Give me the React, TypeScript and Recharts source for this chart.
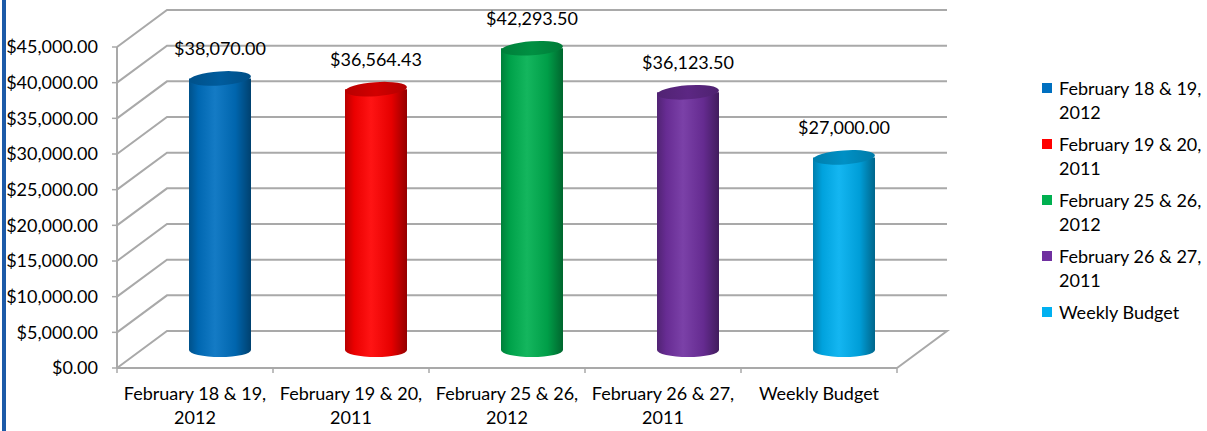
import React from "react"
import { BarChart, Bar, XAxis, YAxis, CartesianGrid, Cell, LabelList } from "recharts"

const categories = [
  "February 18 & 19, 2012",
  "February 19 & 20, 2011",
  "February 25 & 26, 2012",
  "February 26 & 27, 2011",
  "Weekly Budget",
]
const amounts = [38070, 36564.43, 42293.5, 36123.5, 27000]
const colors = ["#0070c0", "#ff0000", "#00b050", "#7030a0", "#00b0f0"]
const yTicks = [0, 5000, 10000, 15000, 20000, 25000, 30000, 35000, 40000, 45000]

const data = categories.map((name, i) => ({ name, amount: amounts[i] }))

const W = 1207
const H = 431
const MARGIN = { top: 47, right: 310, bottom: 0, left: 0 }
const Y_AXIS_W = 117
const X_AXIS_H = 63
const PLOT_BOTTOM = H - X_AXIS_H
const PLOT_W = W - MARGIN.right - Y_AXIS_W
// 3d look: back wall offset and bar depth (half of it)
const DEPTH_X = 50
const DEPTH_Y = 37
const MID_X = 25
const MID_Y = 18
const CAP_RY = 7
const FONT = "Lato, 'Liberation Sans', sans-serif"
const GRID = "#a9a9a9"

const money = (v: number) =>
  "$" + v.toLocaleString("en-US", { minimumFractionDigits: 2, maximumFractionDigits: 2 })

const splitName = (s: string) => s.split(/(?<=,) /)

function shade(hex: string, f: number) {
  const n = parseInt(hex.slice(1), 16)
  const ch = [(n >> 16) & 255, (n >> 8) & 255, n & 255].map((c) =>
    f < 1 ? Math.round(c * f) : Math.round(c + (255 - c) * (f - 1))
  )
  return "#" + ch.map((c) => c.toString(16).padStart(2, "0")).join("")
}

function WallLine(props: any) {
  const { x1, y1, x2, index } = props
  let d = `M${x1},${y1} L${x1 + DEPTH_X},${y1 - DEPTH_Y} L${x2 + DEPTH_X},${y1 - DEPTH_Y}`
  if (Math.abs(y1 - PLOT_BOTTOM) < 1) d += ` L${x2},${y1}`
  return <path key={`wall-${index}`} d={d} fill="none" stroke={GRID} strokeWidth={2} />
}

function Cylinder(props: any) {
  const { x, y, width, height, payload } = props
  if (!height || height <= 0) return null
  const i = categories.indexOf(payload.name)
  const rx = width / 2
  const cx = x + rx + MID_X
  const top = y - MID_Y
  const bottom = y + height - MID_Y
  const d = `M${cx - rx},${top} L${cx - rx},${bottom} A${rx},${CAP_RY} 0 0 0 ${cx + rx},${bottom} L${cx + rx},${top} Z`
  return (
    <g>
      <path d={d} fill={`url(#body-${i})`} />
      <ellipse
        cx={cx}
        cy={top}
        rx={rx}
        ry={CAP_RY}
        fill={`url(#cap-${i})`}
        transform={`rotate(-4 ${cx} ${top})`}
      />
    </g>
  )
}

function ValueLabel(props: any) {
  const { x, y, width, value } = props
  const cx = x + width / 2 + MID_X
  return (
    <text x={cx} y={y - MID_Y - CAP_RY - 16} textAnchor="middle" fontSize={18} fill="#000" fontFamily={FONT}>
      {money(value)}
    </text>
  )
}

function CategoryTick(props: any) {
  const { x, payload, index } = props
  const band = PLOT_W / categories.length
  const lines = splitName(payload.value)
  return (
    <g>
      <line x1={x - band / 2} y1={PLOT_BOTTOM} x2={x - band / 2} y2={PLOT_BOTTOM + 5} stroke={GRID} strokeWidth={1.5} />
      {index === categories.length - 1 && (
        <line x1={x + band / 2} y1={PLOT_BOTTOM} x2={x + band / 2} y2={PLOT_BOTTOM + 5} stroke={GRID} strokeWidth={1.5} />
      )}
      <text textAnchor="middle" fontSize={18} fill="#000" fontFamily={FONT}>
        {lines.map((l, k) => (
          <tspan key={k} x={x} y={PLOT_BOTTOM + 32 + k * 24}>
            {l}
          </tspan>
        ))}
      </text>
    </g>
  )
}

function SideLegend() {
  return (
    <div style={{ position: "absolute", left: 1042, top: 76, fontFamily: FONT, fontSize: 18, lineHeight: "24px", color: "#000" }}>
      {categories.map((name, i) => (
        <div key={name} style={{ display: "flex", alignItems: "flex-start", marginBottom: 8 }}>
          <span style={{ width: 10, height: 10, marginTop: 7, background: colors[i], flex: "none" }} />
          <span style={{ marginLeft: 7 }}>
            {splitName(name).map((l, k) => (
              <div key={k}>{l}</div>
            ))}
          </span>
        </div>
      ))}
    </div>
  )
}

export default function App() {
  return (
    <div style={{ position: "absolute", left: 0, top: 0, width: W, height: H, background: "#fff" }}>
      <div style={{ position: "absolute", left: 2, top: 0, width: 4, height: H, background: "#1c5aa8" }} />
      <BarChart width={W} height={H} data={data} margin={MARGIN} style={{ fontFamily: FONT }}>
        <defs>
          {colors.map((c, i) => (
            <linearGradient key={`b${i}`} id={`body-${i}`} x1="0" y1="0" x2="1" y2="0">
              <stop offset="0" stopColor={shade(c, 0.72)} />
              <stop offset="0.15" stopColor={shade(c, 0.92)} />
              <stop offset="0.42" stopColor={shade(c, 1.08)} />
              <stop offset="0.75" stopColor={shade(c, 0.9)} />
              <stop offset="1" stopColor={shade(c, 0.58)} />
            </linearGradient>
          ))}
          {colors.map((c, i) => (
            <linearGradient key={`c${i}`} id={`cap-${i}`} x1="0" y1="0" x2="1" y2="0">
              <stop offset="0" stopColor={shade(c, 0.72)} />
              <stop offset="0.5" stopColor={shade(c, 0.82)} />
              <stop offset="1" stopColor={shade(c, 0.7)} />
            </linearGradient>
          ))}
        </defs>
        <CartesianGrid vertical={false} horizontal={WallLine} />
        <XAxis
          dataKey="name"
          height={X_AXIS_H}
          axisLine={{ stroke: GRID, strokeWidth: 2 }}
          tickLine={false}
          tick={CategoryTick}
          interval={0}
        />
        <YAxis
          width={Y_AXIS_W}
          domain={[0, 45000]}
          ticks={yTicks}
          tickFormatter={money}
          tickSize={5}
          tickMargin={14}
          axisLine={{ stroke: GRID, strokeWidth: 2 }}
          tickLine={{ stroke: GRID, strokeWidth: 1.5 }}
          tick={{ fontSize: 18, fill: "#000", fontFamily: FONT }}
          interval={0}
        />
        <Bar dataKey="amount" barSize={62} shape={Cylinder} isAnimationActive={false}>
          {data.map((d, i) => (
            <Cell key={d.name} fill={colors[i]} />
          ))}
          <LabelList dataKey="amount" content={ValueLabel} />
        </Bar>
      </BarChart>
      <SideLegend />
    </div>
  )
}
